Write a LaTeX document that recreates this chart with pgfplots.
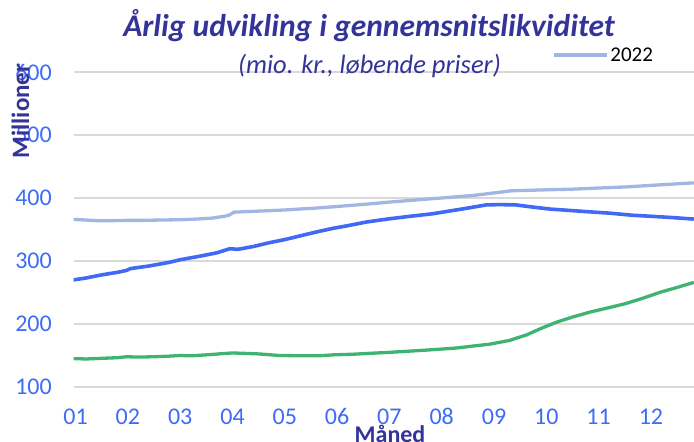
\documentclass[border=0pt]{standalone}
\usepackage{pgfplots}
\pgfplotsset{compat=1.18}
\usepackage{fontspec}
\setmainfont{Carlito}
\definecolor{titlecol}{HTML}{33339A}
\definecolor{tickcol}{HTML}{3D6CF6}
\definecolor{lblue}{HTML}{A2B6E3}
\definecolor{dblue}{HTML}{4169F5}
\definecolor{dgreen}{HTML}{3FB472}
\definecolor{gridcol}{HTML}{D9D9D9}
\begin{document}
\begin{tikzpicture}[x=1bp,y=1bp]
\useasboundingbox (0,0) rectangle (694,442);
\begin{axis}[
  scale only axis,
  width=620.5bp, height=315bp,
  at={(73.5bp,55bp)}, anchor=south west,
  xmin=0.96, xmax=12.824,
  ymin=100, ymax=600,
  axis line style={draw=none},
  tick style={draw=none},
  ymajorgrids,
  grid style={draw=gridcol, line width=1.6bp},
  xtick={1,2,3,4,5,6,7,8,9,10,11,12},
  xticklabels={01,02,03,04,05,06,07,08,09,10,11,12},
  ytick={100,200,300,400,500,600},
  /pgf/number format/assume math mode=true,
  tick label style={font=\fontsize{24bp}{28bp}\selectfont, text=tickcol},
  yticklabel style={anchor=east, inner sep=0pt, xshift=-21.5bp},
  xticklabel style={anchor=base, inner sep=0pt, yshift=-38bp},
  legend style={at={(0.771,1.054)}, anchor=west, draw=none, fill=none,
    inner sep=0pt, font=\fontsize{21bp}{24bp}\selectfont},
  legend cell align=left,
  legend image code/.code={\draw[#1] (0bp,0bp) -- (53bp,0bp);},
  clip=true,
]
\addplot[lblue, line width=3.3bp, line join=round] coordinates {
(0.96,366) (1.2,365) (1.4,364) (1.7,364) (2.0,364.5) (2.3,364.5) (2.6,365)
(3.0,365.5) (3.3,366.5) (3.6,368) (3.85,371) (3.93,372.5) (4.03,377.5)
(4.3,378.5) (4.6,379.5) (5.0,381) (5.29,382.5) (5.6,384) (6.0,386.5)
(6.3,388.5) (6.6,390.5) (7.0,393.5) (7.3,395.5) (7.6,397.5) (8.0,400)
(8.3,402) (8.6,404) (9.0,408) (9.34,411.5) (9.6,412) (10.0,413)
(10.5,414) (11.05,416) (11.5,417.5) (12.0,420) (12.4,422) (12.82,424)
};
\addlegendentry{2022}
\addplot[dblue, line width=3.6bp, line join=round, forget plot] coordinates {
(0.96,270) (1.2,273) (1.5,278) (1.8,282) (1.97,285) (2.05,288) (2.4,292)
(2.8,298) (3.0,302) (3.4,308) (3.7,313) (3.95,319.5) (4.1,318.5) (4.4,323)
(4.7,329) (5.0,334) (5.3,340) (5.6,346) (5.93,352) (6.2,356) (6.57,362)
(7.0,367) (7.4,371) (7.83,375) (8.2,380) (8.5,384) (8.85,389) (9.1,389.5)
(9.42,389) (9.7,386) (10.06,382.5) (10.4,380.5) (10.83,378) (11.2,376)
(11.66,372.5) (12.0,371) (12.4,369) (12.82,366.5)
};
\addplot[dgreen, line width=3.3bp, line join=round, forget plot] coordinates {
(0.96,145) (1.2,144.5) (1.5,145.5) (1.8,146.5) (1.98,148) (2.2,147.5)
(2.5,148) (2.8,149) (3.0,150) (3.2,149.5) (3.5,151) (3.9,153.5) (4.0,154)
(4.2,153.5) (4.5,152.5) (4.9,150) (5.4,149.5) (5.7,149.8) (5.92,151)
(6.3,152) (6.76,154) (7.0,155) (7.3,156.5) (7.6,158) (7.97,160) (8.3,162)
(8.6,165) (8.92,168) (9.3,174) (9.63,183) (9.9,193) (10.2,203) (10.5,211)
(10.84,219) (11.2,226) (11.5,232) (11.85,241) (12.2,251) (12.5,258)
(12.82,266)
};
\end{axis}
\node[anchor=base, text=titlecol, inner sep=0pt,
  font=\fontsize{31.5bp}{36bp}\selectfont\bfseries\itshape] at (369,405)
  {Årlig udvikling i gennemsnitslikviditet};
\node[anchor=base, text=titlecol, inner sep=0pt,
  font=\fontsize{26.5bp}{30bp}\selectfont\itshape] at (369.5,368)
  {(mio. kr., løbende priser)};
\node[anchor=base, rotate=90, text=titlecol, inner sep=0pt,
  font=\fontsize{25bp}{30bp}\selectfont\bfseries] at (29,331) {Millioner};
\node[anchor=base, text=titlecol, inner sep=0pt,
  font=\fontsize{24bp}{28bp}\selectfont\bfseries] at (390,-1) {Måned};
\end{tikzpicture}
\end{document}
